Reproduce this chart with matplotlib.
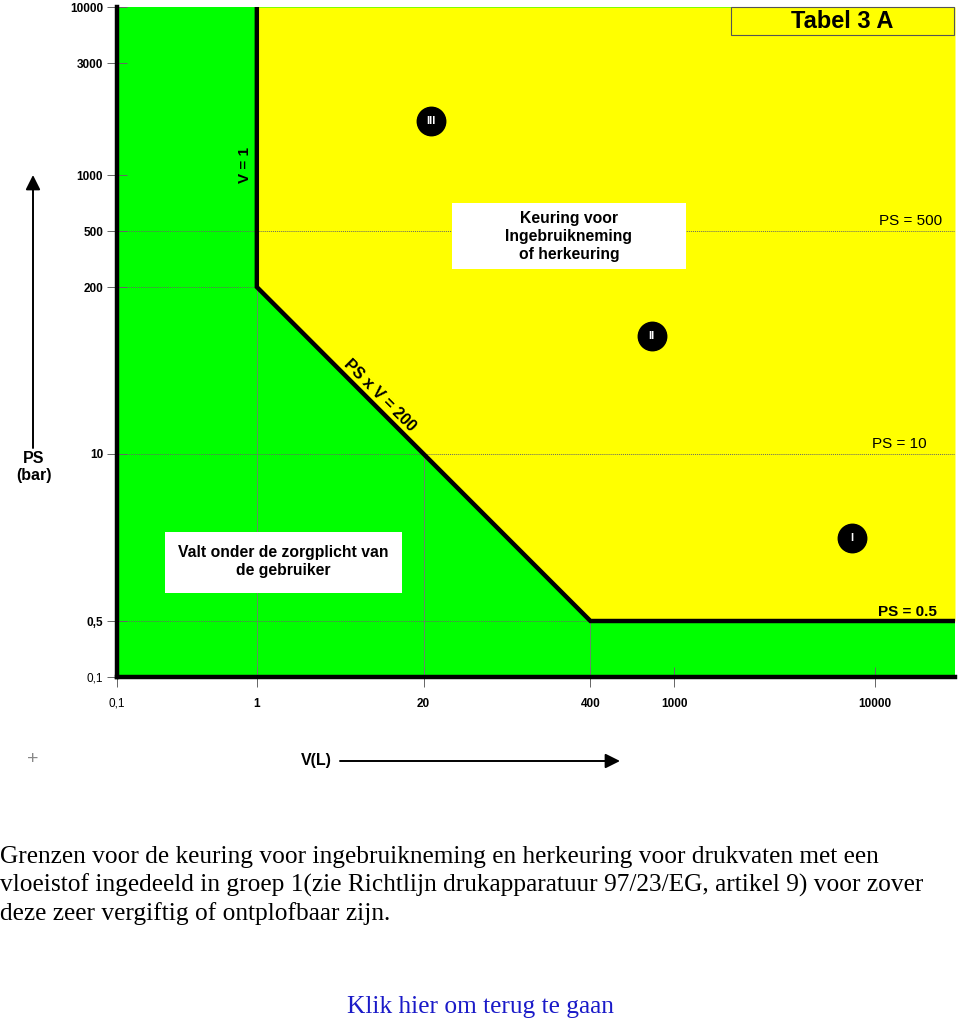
import numpy as np
import matplotlib
matplotlib.use("Agg")
import matplotlib.pyplot as plt
from matplotlib.patches import Rectangle

# ---------------- data ----------------
x_tick_values = [0.1, 1, 20, 400, 1000, 10000]
x_tick_labels = ["0,1", "1", "20", "400", "1000", "10000"]
y_tick_values = [0.1, 0.5, 10, 200, 500, 1000, 3000, 10000]
y_tick_labels = ["0,1", "0,5", "10", "200", "500", "1000", "3000", "10000"]

# boundary between green (zorgplicht) and yellow (keuring)
boundary_V = [1, 1, 20, 400, 25000]
boundary_PS = [10000, 200, 10, 0.5, 0.5]

# horizontal reference lines (PS value, V start, V end)
hline_PS = [500, 200, 10, 0.5]
hline_Vstart = [0.1, 0.1, 0.1, 0.1]
hline_Vend = [25000, 1, 25000, 25000]
# vertical reference lines (V value, PS top)
vline_V = [1, 20, 400]
vline_PStop = [200, 10, 0.5]

# category markers
cat_labels = ["III", "II", "I"]
cat_V = [23, 780, 7700]
cat_PS = [1700, 83, 2.2]

x_limits = (0.1, 25000)
y_limits = (0.1, 10000)

# ---------------- schematic scale (piecewise log, as drawn in the table) ----------------
x_scale_vals = np.log10([0.1, 1, 20, 400, 1000, 10000, 25000])
x_scale_pos = np.array([117, 257, 424, 591, 675, 876, 956], dtype=float)
y_scale_vals = np.log10([0.1, 0.5, 10, 200, 500, 1000, 3000, 10000])
y_scale_pos = -np.array([677, 621, 454, 287, 231, 175, 63, 7], dtype=float)


def fx(v):
    v = np.asarray(v, dtype=float)
    return np.interp(np.log10(np.clip(v, 1e-9, None)), x_scale_vals, x_scale_pos)


def fx_inv(p):
    return 10 ** np.interp(np.asarray(p, dtype=float), x_scale_pos, x_scale_vals)


def fy(v):
    v = np.asarray(v, dtype=float)
    return np.interp(np.log10(np.clip(v, 1e-9, None)), y_scale_vals, y_scale_pos)


def fy_inv(p):
    return 10 ** np.interp(np.asarray(p, dtype=float), y_scale_pos, y_scale_vals)


GREEN = "#00FF00"
YELLOW = "#FFFF00"
SANS = ["Liberation Sans", "DejaVu Sans"]
SERIF = ["Liberation Serif", "DejaVu Serif"]

fig = plt.figure(figsize=(9.6, 10.26), dpi=100)
W, H = 960, 1026
ax = fig.add_axes([117 / W, 1 - 677 / H, (955 - 117) / W, (677 - 7) / H])
ax.set_xscale("function", functions=(fx, fx_inv))
ax.set_yscale("function", functions=(fy, fy_inv))
ax.set_xlim(*x_limits)
ax.set_ylim(*y_limits)
ax.set_facecolor(GREEN)

# yellow region above the boundary
ax.fill_between(boundary_V[1:], boundary_PS[1:], y_limits[1], color=YELLOW, lw=0, zorder=1)

# reference lines
for ps, v0, v1 in zip(hline_PS, hline_Vstart, hline_Vend):
    ax.plot([v0, v1], [ps, ps], color="#666666", lw=0.7, ls=(0, (1, 1)), zorder=2)
for v, top in zip(vline_V, vline_PStop):
    ax.plot([v, v], [y_limits[0], top], color="#777777", lw=0.6, zorder=2)

# boundary line
ax.plot(boundary_V, boundary_PS, color="black", lw=3.2, zorder=3,
        solid_joinstyle="miter", solid_capstyle="butt")

# spines
for s in ["top", "right"]:
    ax.spines[s].set_visible(False)
for s in ["left", "bottom"]:
    ax.spines[s].set_linewidth(3.2)
    ax.spines[s].set_color("black")
    ax.spines[s].set_zorder(3.5)

# ticks
ax.set_xticks(x_tick_values)
ax.set_xticklabels(x_tick_labels)
ax.set_yticks(y_tick_values)
ax.set_yticklabels(y_tick_labels)
ax.minorticks_off()
ax.tick_params(axis="both", direction="inout", length=14, width=0.7, color="#666666",
               labelsize=8.5)
ax.tick_params(axis="y", pad=3)
ax.tick_params(axis="x", pad=8)
for lab in ax.get_xticklabels() + ax.get_yticklabels():
    lab.set_family(SANS)
    lab.set_fontweight("normal" if lab.get_text() == "0,1" else "bold")

# category markers
ax.scatter(cat_V, cat_PS, s=420, color="black", zorder=5)
for lab, v, ps in zip(cat_labels, cat_V, cat_PS):
    ax.text(v, ps, lab, color="white", fontsize=8, fontweight="bold", family=SANS,
            ha="center", va="center", zorder=6)

# text boxes (axes fraction)
def axfx(px):
    return (px - 117) / 838


def axfy(py):
    return (677 - py) / 670


ax.add_patch(Rectangle((axfx(452), axfy(269)), 234 / 838, 66 / 670, transform=ax.transAxes,
                       facecolor="white", edgecolor="none", zorder=4))
ax.text(axfx(569), axfy(236), "Keuring voor\nIngebruikneming\nof herkeuring",
        transform=ax.transAxes, ha="center", va="center", fontsize=11.3,
        fontweight="bold", family=SANS, linespacing=1.25, zorder=5)

ax.add_patch(Rectangle((axfx(165), axfy(593)), 237 / 838, 61 / 670, transform=ax.transAxes,
                       facecolor="white", edgecolor="none", zorder=4))
ax.text(axfx(283.5), axfy(562), "Valt onder de zorgplicht van\nde gebruiker",
        transform=ax.transAxes, ha="center", va="center", fontsize=11.3,
        fontweight="bold", family=SANS, linespacing=1.25, zorder=5)

ax.add_patch(Rectangle((axfx(731), axfy(35)), 223 / 838, 28 / 670, transform=ax.transAxes,
                       facecolor="none", edgecolor="#555555", lw=0.8, zorder=4,
                       clip_on=False))
ax.text(axfx(842), axfy(21), "Tabel 3 A", transform=ax.transAxes, ha="center",
        va="center", fontsize=17, fontweight="bold", family=SANS, zorder=5)

# line labels
ax.text(axfx(942), axfy(221), "PS = 500", transform=ax.transAxes, ha="right",
        va="center", fontsize=11, family=SANS, zorder=5)
ax.text(axfx(927), axfy(444), "PS = 10", transform=ax.transAxes, ha="right",
        va="center", fontsize=11, family=SANS, zorder=5)
ax.text(axfx(937), axfy(612), "PS = 0.5", transform=ax.transAxes, ha="right",
        va="center", fontsize=11, fontweight="bold", family=SANS, zorder=5)
ax.text(axfx(245), axfy(165), "V = 1", transform=ax.transAxes, ha="center",
        va="center", rotation=90, fontsize=11, fontweight="bold", family=SANS, zorder=5)
ax.text(axfx(380), axfy(395), "PS x V = 200", transform=ax.transAxes, ha="center",
        va="center", rotation=-45, rotation_mode="anchor", fontsize=11.5,
        fontweight="bold", family=SANS, zorder=5)

# axis titles and arrows (figure coords)
fig.text(34 / W, 1 - 467 / H, "PS\n(bar)", ha="center", va="center", fontsize=11.5,
         fontweight="bold", family=SANS, linespacing=1.2)
ax.annotate("", xy=(33 / W, 1 - 175 / H), xytext=(33 / W, 1 - 448 / H),
            xycoords="figure fraction", textcoords="figure fraction",
            arrowprops=dict(arrowstyle="-|>", lw=1.4, color="black", mutation_scale=22,
                            shrinkA=0, shrinkB=0))
fig.text(316 / W, 1 - 761 / H, "V(L)", ha="center", va="center", fontsize=11.5,
         fontweight="bold", family=SANS)
ax.annotate("", xy=(620 / W, 1 - 761 / H), xytext=(340 / W, 1 - 761 / H),
            xycoords="figure fraction", textcoords="figure fraction",
            arrowprops=dict(arrowstyle="-|>", lw=1.4, color="black", mutation_scale=22,
                            shrinkA=0, shrinkB=0))
fig.text(33 / W, 1 - 760 / H, "+", ha="center", va="center", fontsize=14,
         color="#888888", family=SANS, fontweight="light")

# caption
caption_lines = [
    "Grenzen voor de keuring voor ingebruikneming en herkeuring voor drukvaten met een",
    "vloeistof ingedeeld in groep 1(zie Richtlijn drukapparatuur 97/23/EG, artikel 9) voor zover",
    "deze zeer vergiftig of ontplofbaar zijn.",
]
for i, line in enumerate(caption_lines):
    fig.text(0.5 / W, 1 - (857 + 28.5 * i) / H, line, ha="left", va="center",
             fontsize=18.3, family=SERIF, color="black")

fig.text(480 / W, 1 - 1007 / H, "Klik hier om terug te gaan", ha="center", va="center",
         fontsize=18.3, family=SERIF, color="#1a1ac8")

fig.savefig("out.png", dpi=100, facecolor="white")
